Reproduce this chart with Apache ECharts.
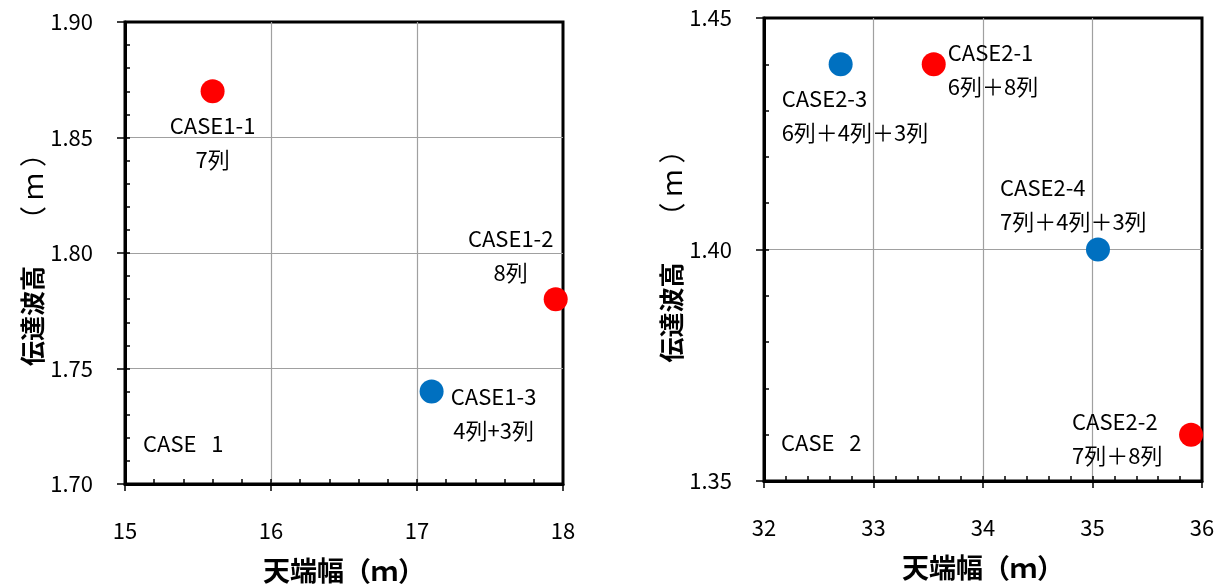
<!DOCTYPE html>
<html>
<head>
<meta charset="utf-8">
<script src="https://cdn.jsdelivr.net/npm/echarts@6/dist/echarts.min.js"></script>
<style>
html,body{margin:0;padding:0;background:#fff;}
#chart{width:1218px;height:585px;}
</style>
</head>
<body>
<div id="chart"></div>
<script>
// ---- data ----
const case1Names = ['CASE1-1', 'CASE1-2', 'CASE1-3'];
const case1Desc  = ['7列', '8列', '4列+3列'];
const case1X     = [15.6, 17.95, 17.1];
const case1Y     = [1.87, 1.78, 1.74];
const case1Group = ['A', 'A', 'B'];

const case2Names = ['CASE2-1', 'CASE2-2', 'CASE2-3', 'CASE2-4'];
const case2Desc  = ['6列＋8列', '7列＋8列', '6列＋4列＋3列', '7列＋4列＋3列'];
const case2X     = [33.55, 35.9, 32.7, 35.05];
const case2Y     = [1.44, 1.36, 1.44, 1.40];
const case2Group = ['A', 'A', 'B', 'B'];

const xTicks1 = [15, 16, 17, 18];
const yTicks1 = [1.70, 1.75, 1.80, 1.85, 1.90];
const xTicks2 = [32, 33, 34, 35, 36];
const yTicks2 = [1.35, 1.40, 1.45];

const xName = '天端幅（ｍ）';
const yName = '{b|伝達波高}{n|　 （ ｍ ）}';
const panelTitles = ['CASE   1', 'CASE   2'];

// ---- styles ----
const FONT = '"Noto Sans CJK JP", "Noto Sans", sans-serif';
const groupColor = { A: '#FF0000', B: '#0070C0' };
const labelPlace = {
  'CASE1-1': { align: 'center', offset: [0, 51] },
  'CASE1-2': { align: 'center', offset: [-45, -44] },
  'CASE1-3': { align: 'center', offset: [62, 22] },
  'CASE2-1': { align: 'left', offset: [14, 5] },
  'CASE2-3': { align: 'left', offset: [-59, 51] },
  'CASE2-4': { align: 'left', offset: [-98, -45] },
  'CASE2-2': { align: 'left', offset: [-119, 4] }
};

function buildData(names, desc, xs, ys, groups) {
  return names.map((n, i) => {
    const p = labelPlace[n];
    return {
      name: n,
      value: [xs[i], ys[i]],
      itemStyle: { color: groupColor[groups[i]], opacity: 1 },
      label: {
        show: true,
        position: 'inside',
        formatter: n + '\n' + desc[i],
        align: p.align,
        verticalAlign: 'middle',
        offset: p.offset,
        color: '#000',
        fontFamily: FONT,
        fontSize: 22,
        lineHeight: 34
      }
    };
  });
}

const splitStyle = { show: true, showMinLine: false, showMaxLine: false, lineStyle: { color: '#a0a0a0', width: 1.2 } };

function mainX(grid, ticks) {
  return {
    type: 'value', gridIndex: grid, position: 'bottom',
    min: ticks[0], max: ticks[ticks.length - 1], interval: ticks[1] - ticks[0],
    name: xName, nameLocation: 'middle', nameGap: 73,
    nameTextStyle: { fontFamily: FONT, fontSize: 27, fontWeight: 'bold', color: '#000' },
    axisLine: { show: true, onZero: false, lineStyle: { color: '#000', width: 3 } },
    axisTick: { show: true, inside: false, length: 7, lineStyle: { color: '#000', width: 1.5 } },
    axisLabel: { margin: 36, fontFamily: FONT, fontSize: 22, color: '#000' },
    splitLine: splitStyle
  };
}
function minorX(grid, ticks) {
  return {
    type: 'value', gridIndex: grid, position: 'bottom',
    min: ticks[0], max: ticks[ticks.length - 1], interval: (ticks[1] - ticks[0]) / 5,
    axisLine: { show: false },
    axisTick: { show: true, inside: true, length: 5, lineStyle: { color: '#000', width: 1.5 } },
    axisLabel: { show: false }, splitLine: { show: false }
  };
}
function mainY(grid, ticks, gap) {
  return {
    type: 'value', gridIndex: grid, position: 'left',
    min: ticks[0], max: ticks[ticks.length - 1], interval: 0.05,
    name: yName, nameLocation: 'middle', nameGap: gap, nameRotate: 90,
    nameTextStyle: {
      fontFamily: FONT, fontSize: 25, color: '#000',
      rich: {
        b: { fontFamily: FONT, fontSize: 25, fontWeight: 'bold', color: '#000' },
        n: { fontFamily: FONT, fontSize: 27, fontWeight: 'normal', color: '#000' }
      }
    },
    axisLine: { show: true, onZero: false, lineStyle: { color: '#000', width: 3 } },
    axisTick: { show: true, inside: false, length: 8, lineStyle: { color: '#000', width: 1.5 } },
    axisLabel: { margin: 32, fontFamily: FONT, fontSize: 22, color: '#000', formatter: v => v.toFixed(2) },
    splitLine: splitStyle
  };
}
function minorY(grid, ticks) {
  return {
    type: 'value', gridIndex: grid, position: 'left',
    min: ticks[0], max: ticks[ticks.length - 1], interval: 0.01,
    axisLine: { show: false },
    axisTick: { show: true, inside: true, length: 5, lineStyle: { color: '#000', width: 1.5 } },
    axisLabel: { show: false }, splitLine: { show: false }
  };
}

const chart = echarts.init(document.getElementById('chart'), null, { renderer: 'canvas' });
chart.setOption({
  backgroundColor: '#fff',
  animation: false,
  grid: [
    { left: 125, right: 655, top: 22, bottom: 101, containLabel: false, outerBoundsMode: 'none',
      show: true, borderColor: '#000', borderWidth: 3, backgroundColor: 'transparent' },
    { left: 764, right: 16, top: 18, bottom: 104, containLabel: false, outerBoundsMode: 'none',
      show: true, borderColor: '#000', borderWidth: 3, backgroundColor: 'transparent' }
  ],
  xAxis: [mainX(0, xTicks1), minorX(0, xTicks1), mainX(1, xTicks2), minorX(1, xTicks2)],
  yAxis: [mainY(0, yTicks1, 45), minorY(0, yTicks1), mainY(1, yTicks2, 45), minorY(1, yTicks2)],
  graphic: [
    { type: 'text', left: 143, top: 433, style: { text: panelTitles[0], fontFamily: FONT, fontSize: 22, fill: '#000' } },
    { type: 'text', left: 781, top: 432, style: { text: panelTitles[1], fontFamily: FONT, fontSize: 22, fill: '#000' } }
  ],
  series: [
    {
      type: 'scatter', xAxisIndex: 0, yAxisIndex: 0, symbolSize: 24, clip: false, z: 5,
      data: buildData(case1Names, case1Desc, case1X, case1Y, case1Group)
    },
    {
      type: 'scatter', xAxisIndex: 2, yAxisIndex: 2, symbolSize: 24, clip: false, z: 5,
      data: buildData(case2Names, case2Desc, case2X, case2Y, case2Group)
    }
  ]
});
</script>
</body>
</html>
